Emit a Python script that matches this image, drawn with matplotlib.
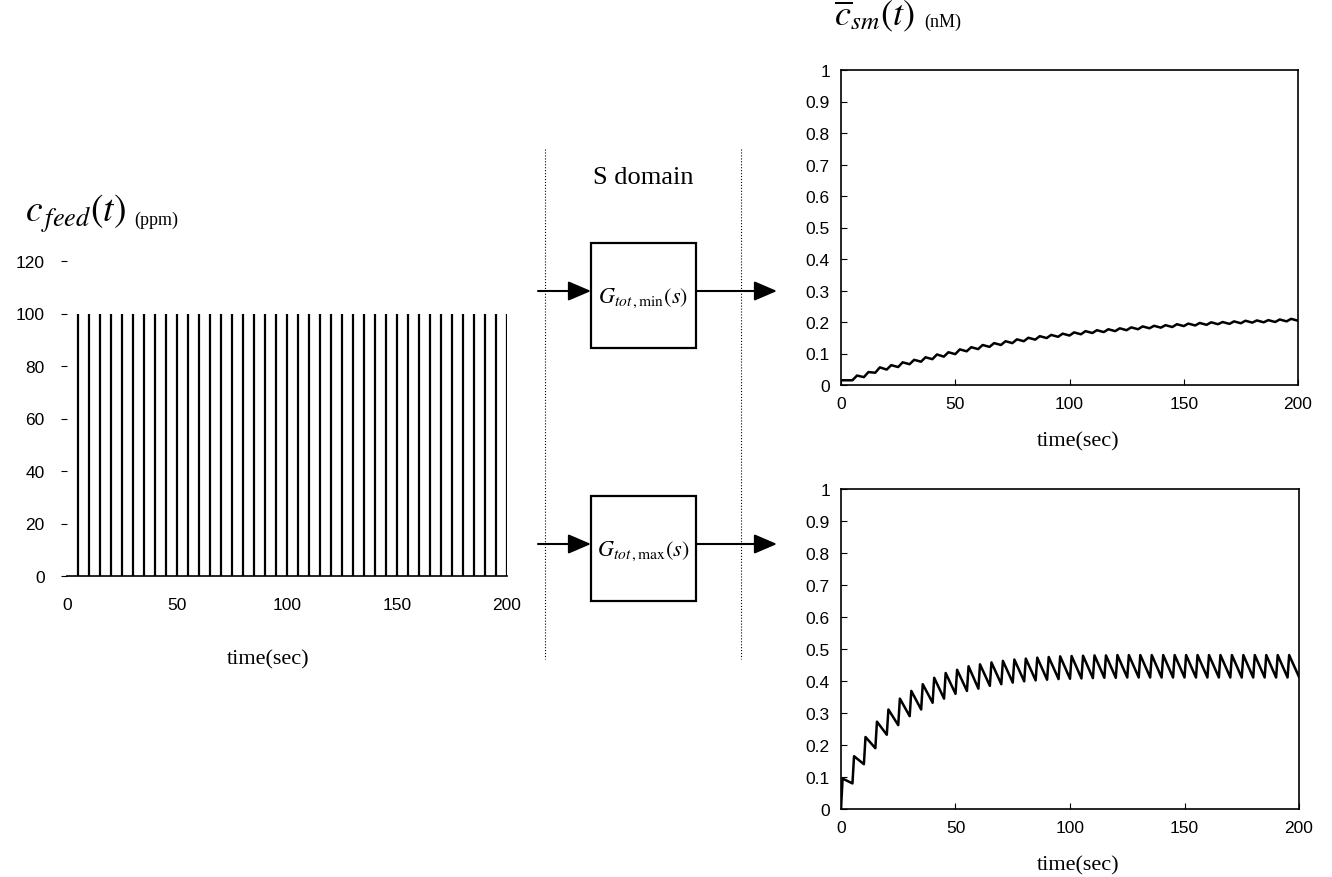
import matplotlib.pyplot as plt
from matplotlib.patches import Rectangle

plt.rcParams['mathtext.fontset'] = 'stix'
plt.rcParams['font.family'] = 'Liberation Sans'

# feed pulses (ppm)
feed_times = [5, 10, 15, 20, 25, 30, 35, 40, 45, 50, 55, 60, 65, 70, 75, 80,
              85, 90, 95, 100, 105, 110, 115, 120, 125, 130, 135, 140, 145,
              150, 155, 160, 165, 170, 175, 180, 185, 190, 195, 200]
feed_amp = 100

# response to G_tot,min : pulses at 5..195, peak after each pulse, trough before next
min_pulses = feed_times[:-1]
min_start = 0.015
min_peaks = [0.030, 0.041, 0.056, 0.063, 0.072, 0.080, 0.088, 0.097, 0.104, 0.113,
             0.120, 0.127, 0.133, 0.139, 0.145, 0.150, 0.155, 0.159, 0.163, 0.167,
             0.171, 0.174, 0.177, 0.180, 0.183, 0.186, 0.188, 0.190, 0.193, 0.195,
             0.197, 0.199, 0.200, 0.202, 0.204, 0.205, 0.206, 0.208, 0.210]
min_troughs = [0.025, 0.039, 0.049, 0.057, 0.066, 0.074, 0.082, 0.090, 0.098, 0.107,
               0.114, 0.121, 0.127, 0.133, 0.139, 0.144, 0.149, 0.153, 0.157, 0.161,
               0.165, 0.168, 0.171, 0.174, 0.177, 0.180, 0.182, 0.184, 0.187, 0.189,
               0.191, 0.193, 0.194, 0.196, 0.198, 0.199, 0.200, 0.202, 0.204]

# response to G_tot,max : pulses at 0..195
max_pulses = [0] + feed_times[:-1]
max_peaks = [0.095, 0.165, 0.225, 0.273, 0.311, 0.345, 0.369, 0.390, 0.410, 0.425,
             0.435, 0.446, 0.452, 0.458, 0.463, 0.467, 0.470, 0.473, 0.475, 0.477,
             0.478, 0.479, 0.480, 0.480, 0.481, 0.481, 0.481, 0.481, 0.481, 0.481,
             0.481, 0.481, 0.481, 0.481, 0.481, 0.481, 0.481, 0.481, 0.481, 0.481]
max_troughs = [0.080, 0.140, 0.190, 0.232, 0.262, 0.290, 0.311, 0.332, 0.345, 0.360,
               0.369, 0.376, 0.385, 0.390, 0.395, 0.399, 0.402, 0.404, 0.406, 0.407,
               0.408, 0.409, 0.410, 0.410, 0.411, 0.411, 0.411, 0.411, 0.411, 0.411,
               0.411, 0.411, 0.411, 0.411, 0.411, 0.411, 0.411, 0.411, 0.411, 0.413]

x_ticks = [0, 50, 100, 150, 200]
feed_yticks = [0, 20, 40, 60, 80, 100, 120]
resp_yticks = [0, 0.1, 0.2, 0.3, 0.4, 0.5, 0.6, 0.7, 0.8, 0.9, 1]


def sawtooth(pulses, start, peaks, troughs, rise, period=5):
    t = [0]
    y = [start]
    prev = start
    for tp, pk, tr in zip(pulses, peaks, troughs):
        t += [tp, tp + rise, tp + period]
        y += [prev, pk, tr]
        prev = tr
    return t, y


W, H = 1332, 878
fig = plt.figure(figsize=(W / 100, H / 100), dpi=100)

def px_axes(x0, y0, x1, y1):
    return fig.add_axes([x0 / W, 1 - y1 / H, (x1 - x0) / W, (y1 - y0) / H])

# ---- left: feed pulses
ax1 = px_axes(67, 262, 507, 577)
ax1.vlines(feed_times, 0, feed_amp, color='black', lw=1.6)
ax1.set_xlim(0, 200)
ax1.set_ylim(0, 120)
ax1.set_xticks(x_ticks)
ax1.set_yticks(feed_yticks)
for s in ['left', 'top', 'right']:
    ax1.spines[s].set_visible(False)
ax1.spines['bottom'].set_linewidth(1.2)
ax1.tick_params(axis='x', length=0, pad=15, labelsize=12.5)
ax1.tick_params(axis='y', length=4, width=0.8, pad=12, labelsize=12.5, direction='out')

# ---- right plots
def resp_axes(ax):
    ax.set_xlim(0, 200)
    ax.set_ylim(0, 1)
    ax.set_xticks(x_ticks)
    ax.set_yticks(resp_yticks)
    ax.set_yticklabels(['%g' % v for v in resp_yticks])
    ax.tick_params(direction='in', length=4, width=0.8, labelsize=12.5, pad=8)
    for s in ax.spines.values():
        s.set_linewidth(1.2)

ax2 = px_axes(841, 71, 1298, 386)
t, y = sawtooth(min_pulses, min_start, min_peaks, min_troughs, rise=2.0)
ax2.plot(t, y, color='black', lw=1.8)
resp_axes(ax2)

ax3 = px_axes(841, 490, 1299, 810)
t, y = sawtooth(max_pulses, 0, max_peaks, max_troughs, rise=0.7)
ax3.plot(t, y, color='black', lw=1.8)
resp_axes(ax3)

# ---- overlay in pixel coordinates for diagram parts
ov = fig.add_axes([0, 0, 1, 1], zorder=-1)
ov.set_xlim(0, W)
ov.set_ylim(H, 0)
ov.axis('off')

serif = 'Liberation Serif'
ov.text(25, 214, r'$c_{\,feed}(t)$', fontsize=27, ha='left', va='center')
ov.text(134, 220, '(ppm)', fontsize=13, family=serif, ha='left', va='center')
ov.text(834, 16, r'$\overline{c}_{sm}(t)$', fontsize=26, ha='left', va='center')
ov.text(924, 22, '(nM)', fontsize=13, family=serif, ha='left', va='center')

ov.text(268, 660, 'time(sec)', fontsize=16, family=serif, ha='center', va='center')
ov.text(1078, 442, 'time(sec)', fontsize=16, family=serif, ha='center', va='center')
ov.text(1078, 866, 'time(sec)', fontsize=16, family=serif, ha='center', va='center')

ov.plot([545, 545], [150, 660], color='black', lw=0.8, ls=':')
ov.plot([741, 741], [150, 660], color='black', lw=0.8, ls=':')
ov.text(643, 178, 'S domain', fontsize=19, family=serif, ha='center', va='center')

arrow = dict(arrowstyle='-|>,head_length=1.4,head_width=0.6', color='black', lw=1.5,
             shrinkA=0, shrinkB=0)
for yc, lab in [(292, r'$G_{tot\,,\mathrm{min}}(s)$'), (545, r'$G_{tot\,,\mathrm{max}}(s)$')]:
    ov.add_patch(Rectangle((591, yc - 48), 105, 105, fill=False, lw=1.6, ec='black'))
    ov.annotate('', xy=(591, yc), xytext=(538, yc), arrowprops=arrow)
    ov.annotate('', xy=(777, yc), xytext=(696, yc), arrowprops=arrow)
    ov.text(643, yc + 6, lab, fontsize=16, ha='center', va='center')

fig.savefig('out.png', dpi=100)
